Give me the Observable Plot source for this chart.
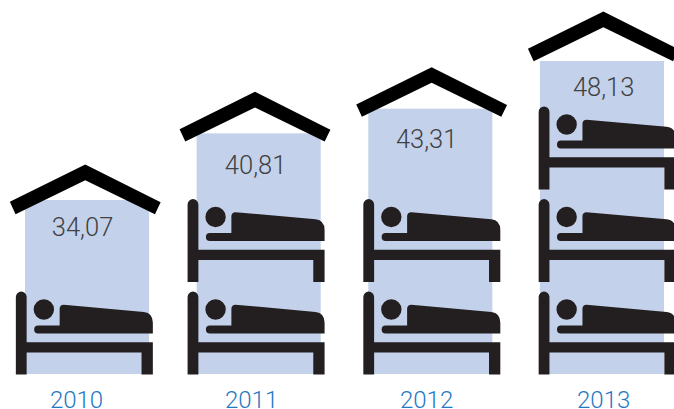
<!DOCTYPE html>
<html>
<head>
<meta charset="utf-8">
<style>html,body{margin:0;padding:0;background:#fff;overflow:hidden}svg{display:block}</style>
<script src="https://cdn.jsdelivr.net/npm/d3@7"></script>
<script src="https://cdn.jsdelivr.net/npm/@observablehq/plot@0.6"></script>
</head>
<body>
<div id="chart"></div>
<script>
const years = ["2010", "2011", "2012", "2013"];
const values = [34.07, 40.81, 43.31, 48.13];
const bedCounts = [1, 2, 2, 3];
const labels = ["34,07", "40,81", "43,31", "48,13"];

const baseline = 16.47;
const bedUnit = 9.36;
const rows = years.map((year, i) => ({year, value: values[i], label: labels[i], beds: bedCounts[i]}));

// small hand offsets of the pictograms in the original artwork
const iconDx = {2010: -3.2, 2011: -3.1, 2012: 1.0, 2013: 4.7};
const roofDx = {2010: -2.3, 2011: -4.2, 2012: 0.8, 2013: 0.9};
const roofDy = {2010: -36, 2011: -42, 2012: -42, 2013: -50};
const labelDx = {2010: -5, 2011: -3.6, 2012: -4.2, 2013: 1.2};
const labelDy = {2010: 36, 2011: 41, 2012: 40, 2013: 35.5};
const yearDx = {2010: -11, 2011: -7.6, 2012: -4.2, 2013: 1.2};

const bedSymbol = {
  draw(c) {
    const L = -68.5;
    const X = (v) => L + v;
    // post
    c.moveTo(X(0), 0);
    c.lineTo(X(0), -77.5);
    c.arc(X(5.4), -77.5, 5.4, Math.PI, 0);
    c.lineTo(X(10.8), -32.3);
    c.lineTo(X(137), -32.3);
    c.lineTo(X(137), 0);
    c.lineTo(X(125.7), 0);
    c.lineTo(X(125.7), -22);
    c.lineTo(X(10.8), -22);
    c.lineTo(X(10.8), 0);
    c.closePath();
    // head
    c.moveTo(X(38.2), -65);
    c.arc(X(28), -65, 10.2, 0, 2 * Math.PI);
    c.closePath();
    // body and arm
    c.moveTo(X(22.3), -49);
    c.lineTo(X(43.8), -49);
    c.lineTo(X(43.8), -66);
    c.quadraticCurveTo(X(44), -69.8, X(48), -69.8);
    c.lineTo(X(128), -62.6);
    c.quadraticCurveTo(X(137), -61.5, X(137), -52);
    c.lineTo(X(137), -41);
    c.lineTo(X(22.3), -41);
    c.arc(X(22.3), -45, 4, Math.PI / 2, 3 * Math.PI / 2);
    c.closePath();
  }
};

const roofSymbol = {
  draw(c) {
    c.moveTo(0, 0);
    c.lineTo(75.4, 37.8);
    c.lineTo(69.7, 49.7);
    c.lineTo(0, 15.7);
    c.lineTo(-69.7, 49.7);
    c.lineTo(-75.4, 37.3);
    c.closePath();
  }
};

const font = "Roboto, 'Liberation Sans', sans-serif";

const chart = Plot.plot({
  width: 674,
  height: 409,
  marginTop: 0,
  marginBottom: 35,
  marginLeft: 0,
  marginRight: 0,
  style: {background: "#fff", fontFamily: font},
  x: {domain: years, range: [25, 664], paddingInner: 0.277, paddingOuter: 0, round: false, axis: null},
  y: {domain: [baseline, 54.3], axis: null},
  marks: [
    Plot.barY(rows, {x: "year", y1: () => baseline, y2: "value", fill: "#c3d2ea"}),
    ...rows.flatMap((r) => [
      Plot.dot(d3.range(r.beds), {
        x: () => r.year,
        y: (i) => baseline + i * bedUnit,
        r: 5,
        symbol: bedSymbol,
        fill: "#231f20",
        stroke: "none",
        dx: iconDx[r.year]
      }),
      Plot.dot([r], {
        x: "year",
        y: "value",
        r: 5,
        symbol: roofSymbol,
        fill: "#000",
        stroke: "none",
        dx: roofDx[r.year],
        dy: roofDy[r.year]
      }),
      Plot.text([r], {
        x: "year",
        y: "value",
        text: "label",
        fontSize: 25.5,
        fontWeight: 300,
        fill: "#414042",
        lineAnchor: "bottom",
        dx: labelDx[r.year],
        dy: labelDy[r.year] - 1
      }),
      Plot.axisX([r.year], {
        tickSize: 0,
        tickPadding: 16,
        fontSize: 24,
        fontWeight: 300,
        color: "#1f78c1",
        fill: "#1f78c1",
        label: null,
        dx: yearDx[r.year]
      })
    ])
  ]
});
document.getElementById("chart").appendChild(chart);
</script>
</body>
</html>
